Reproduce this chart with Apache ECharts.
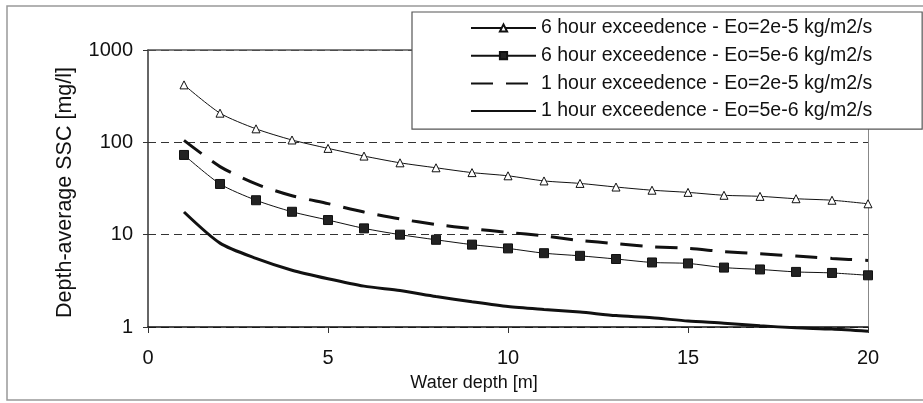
<!DOCTYPE html>
<html>
<head>
<meta charset="utf-8">
<script src="https://cdn.jsdelivr.net/npm/echarts@6/dist/echarts.min.js"></script>
<style>
html,body{margin:0;padding:0;background:#fff;}
#c{width:923px;height:403px;}
</style>
</head>
<body>
<div id="c"></div>
<script>
var depths = [1,2,3,4,5,6,7,8,9,10,11,12,13,14,15,16,17,18,19,20];
var sixHourHigh = [419,207,140,106,86,71,60,53,47,43.4,38.2,35.9,32.8,30.3,28.7,26.7,26.0,24.5,23.6,21.6];
var sixHourLow = [73,35.4,23.6,17.7,14.4,11.7,10.0,8.8,7.8,7.1,6.3,5.9,5.45,5.0,4.88,4.4,4.2,3.95,3.85,3.63];
var oneHourHigh = [105,54.6,35.4,26.4,21.7,17.6,14.8,12.9,11.6,10.6,9.7,8.65,8.0,7.4,7.1,6.56,6.2,5.88,5.53,5.25];
var oneHourLow = [17.6,8.1,5.53,4.12,3.33,2.77,2.48,2.14,1.88,1.67,1.55,1.45,1.33,1.26,1.16,1.1,1.03,0.98,0.95,0.9];
var seriesNames = [
  '6 hour exceedence - Eo=2e-5 kg/m2/s',
  '6 hour exceedence - Eo=5e-6 kg/m2/s',
  '1 hour exceedence - Eo=2e-5 kg/m2/s',
  '1 hour exceedence - Eo=5e-6 kg/m2/s'
];
var xTicks = [0,5,10,15,20];
var yTicks = [1,10,100,1000];

function pairs(vals){ return depths.map(function(d,i){ return [d, vals[i]]; }); }

var FONT = '"Liberation Sans", Arial, sans-serif';
var chart = echarts.init(document.getElementById('c'), null, {renderer:'canvas'});
chart.setOption({
  animation: false,
  backgroundColor: '#fff',
  textStyle: {fontFamily: FONT, color: '#111'},
  graphic: [{
    type: 'rect', shape: {x: 7, y: 6, width: 940, height: 394},
    style: {fill: 'none', stroke: '#999', lineWidth: 1.5}, z: -10, silent: true
  }],
  grid: {left: 148, right: 55, top: 50, bottom: 76},
  legend: {
    orient: 'vertical',
    left: 412, top: 12,
    padding: [6, 50, 8, 58],
    itemWidth: 65, itemHeight: 9, itemGap: 7.7, itemTextGap: 5,
    backgroundColor: '#fff',
    borderColor: '#555', borderWidth: 1.2,
    textStyle: {fontFamily: FONT, fontSize: 19.5, color: '#111'},
    data: [
      {name: seriesNames[0]},
      {name: seriesNames[1]},
      {name: seriesNames[2], itemStyle: {opacity: 0}},
      {name: seriesNames[3], itemStyle: {opacity: 0}}
    ]
  },
  xAxis: [{
    type: 'value', min: 0, max: 20, interval: 5,
    name: 'Water depth [m]', nameLocation: 'middle', nameGap: 47,
    nameTextStyle: {fontFamily: FONT, fontSize: 18, color: '#111', padding: [0, 68, 0, 0]},
    axisLine: {show: true, onZero: false, lineStyle: {color: '#111', width: 1.5}},
    axisTick: {show: true, inside: false, length: 6, lineStyle: {color: '#333'}},
    axisLabel: {fontFamily: FONT, fontSize: 20, color: '#111', margin: 21,
      formatter: function(v){ return xTicks.indexOf(v) >= 0 ? String(v) : ''; }},
    splitLine: {show: false}
  }, {
    type: 'value', min: 0, max: 20, position: 'top',
    axisLine: {show: true, onZero: false, lineStyle: {color: '#555', width: 1.5}},
    axisTick: {show: false}, axisLabel: {show: false}, splitLine: {show: false}
  }],
  yAxis: [{
    type: 'log', logBase: 10, min: 1, max: 1000,
    name: 'Depth-average SSC [mg/l]', nameLocation: 'middle', nameGap: 72,
    nameTextStyle: {fontFamily: FONT, fontSize: 21.5, color: '#111', padding: [0, 8, 0, 0]},
    axisLine: {show: true, onZero: false, lineStyle: {color: '#333', width: 1.5}},
    axisTick: {show: true, length: 5, lineStyle: {color: '#333'}},
    axisLabel: {fontFamily: FONT, fontSize: 20, color: '#111', margin: 15,
      formatter: function(v){ var r = Math.round(v); return yTicks.indexOf(r) >= 0 ? String(r) : ''; }},
    splitLine: {show: true, lineStyle: {color: '#333', type: [8, 5], width: 1}},
    minorTick: {show: false}
  }, {
    type: 'log', logBase: 10, min: 1, max: 1000, position: 'right',
    axisLine: {show: true, onZero: false, lineStyle: {color: '#888', width: 1}},
    axisTick: {show: false}, axisLabel: {show: false}, splitLine: {show: false}
  }],
  series: [{
    name: seriesNames[0], type: 'line', data: pairs(sixHourHigh), smooth: 0.25,
    symbol: 'triangle', symbolSize: 8,
    lineStyle: {color: '#111', width: 1},
    itemStyle: {color: '#fff', borderColor: '#111', borderWidth: 1}
  }, {
    name: seriesNames[1], type: 'line', data: pairs(sixHourLow), smooth: 0.25,
    symbol: 'rect', symbolSize: 9,
    lineStyle: {color: '#111', width: 1},
    itemStyle: {color: '#222', borderColor: '#111', borderWidth: 1}
  }, {
    name: seriesNames[2], type: 'line', data: pairs(oneHourHigh), smooth: 0.25,
    symbol: 'none',
    lineStyle: {color: '#111', width: 3, type: [22, 13]},
    itemStyle: {color: '#111'}
  }, {
    name: seriesNames[3], type: 'line', data: pairs(oneHourLow), smooth: 0.25,
    symbol: 'none', clip: false,
    lineStyle: {color: '#111', width: 3},
    itemStyle: {color: '#111'}
  }]
});
</script>
</body>
</html>
